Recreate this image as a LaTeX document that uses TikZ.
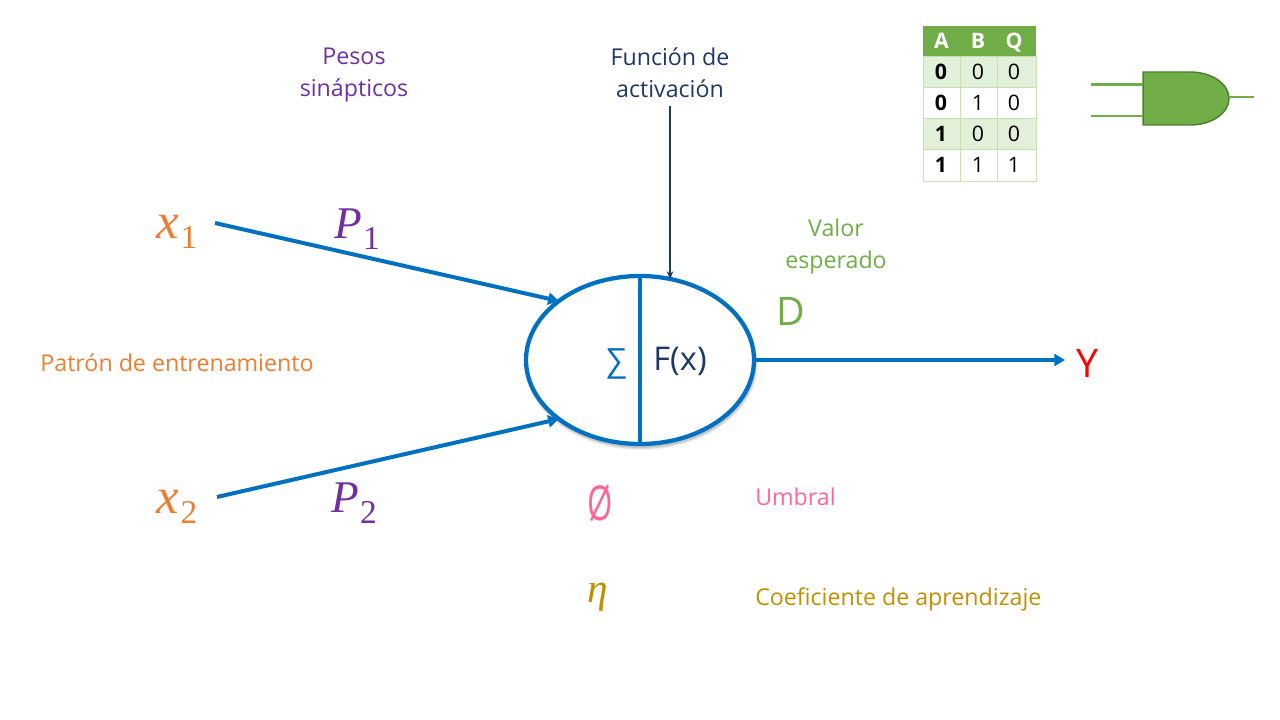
\documentclass[tikz,border=0pt]{standalone}
\usepackage{fontspec}
\setmainfont{Open Sans}
\newfontfamily\mathish{Liberation Serif}
\usetikzlibrary{shapes.geometric,arrows.meta}
\definecolor{cblue}{HTML}{0070C0}
\definecolor{corange}{HTML}{ED7D31}
\definecolor{cpurple}{HTML}{7030A0}
\definecolor{cgreen}{HTML}{70AD47}
\definecolor{cdgreen}{HTML}{507E32}
\definecolor{cnavy}{HTML}{1F3864}
\definecolor{cpink}{HTML}{FF6699}
\definecolor{cgold}{HTML}{BF9000}
\definecolor{crow}{HTML}{E2EFD9}
\definecolor{cgrid}{HTML}{C5E0B3}
\newcommand{\subdigit}[1]{\raisebox{-8pt}{\hspace{1pt}\fontsize{25}{25}\selectfont\mathish\upshape #1}}
\tikzset{
  label text/.style={font=\fontsize{17.4}{24}\selectfont,align=center,inner sep=0pt},
  math x/.style={font=\fontsize{38}{38}\selectfont\mathish\itshape,inner sep=0pt},
  math p/.style={font=\fontsize{34}{34}\selectfont\mathish\itshape,inner sep=0pt},
  big sym/.style={font=\fontsize{29.5}{30}\selectfont,inner sep=0pt},
  flow/.style={draw=cblue,line width=3pt,-{Triangle[length=8pt,width=9pt]}},
  hdr/.style={text=white,font=\fontsize{16}{16}\selectfont\bfseries,inner sep=0pt,text height=11.5pt,text depth=0pt},
  cellA/.style={draw=cgrid,line width=.7pt,fill=crow},
  cellB/.style={draw=cgrid,line width=.7pt,fill=white},
  digit/.style={inner sep=0pt,font=\fontsize{16}{16}\selectfont,text height=11.5pt,text depth=0pt},
  gate line/.style={draw=cgreen,line width=2pt}
}
\begin{document}
\begin{tikzpicture}[x=0.75pt,y=-0.75pt]
\useasboundingbox (0,0) rectangle (1280,720);
% soft shadow of the neuron
\foreach \k/\o in {3/.06,2/.08,1/.10}{
  \path[fill=black,opacity=\o] (641,363) ellipse ({114+\k} and {84+\k});
}
% neuron
\node[ellipse,draw=cblue,fill=white,line width=3.2pt,minimum width=171pt,minimum height=126pt,inner sep=0pt,outer sep=0pt] (neuron) at (640,360) {};
\draw[draw=cblue,line width=3.2pt] (neuron.north) -- (neuron.south);
\node[text=cblue,font=\fontsize{24}{24}\selectfont,inner sep=0pt] (sigma) at (616.5,364) {∑};
\node[text=cnavy,font=\fontsize{24.5}{24}\selectfont,inner sep=0pt] (fx) at (680,361) {F(x)};
% inputs
\node[math x,text=corange] (x1) at (177,232) {x\subdigit{1}};
\node[math x,text=corange] (x2) at (177,507) {x\subdigit{2}};
\node[math p,text=cpurple] (p1) at (357,229) {P\subdigit{1}};
\node[math p,text=cpurple] (p2) at (354,503) {P\subdigit{2}};
\coordinate (in1) at ([shift={(28.5pt,6.75pt)}]x1.center);
\coordinate (in2) at ([shift={(30pt,7.5pt)}]x2.center);
\draw[flow] (in1) -- (neuron.144);
\draw[flow] (in2) -- (neuron.216);
% output
\node[big sym,text=red] (y) at (1087,363) {Y};
\draw[flow] (neuron.east) -- ([xshift=-8pt]neuron.east -| y.west);
% labels
\node[label text,text=cpurple] (pesos) at (354,75) {Pesos\\sinápticos};
\node[label text,text=cnavy] (func) at (670,72.5) {Función de\\activación};
\node[label text,text=cgreen] (valor) at (836,246) {Valor\\esperado};
\node[big sym,text=cgreen] (d) at (791,311) {D};
\node[label text,text=corange] (patron) at (177,363) {Patrón de entrenamiento};
\node[inner sep=0pt,text=cpink,font=\fontsize{36}{36}\selectfont] (phi) at (600,503) {\scalebox{.68}[1]{Ø}};
\node[label text,text=cpink,anchor=west] (umbral) at (755,497) {Umbral};
\node[inner sep=0pt,font=\fontsize{31}{31}\selectfont\mathish\itshape,text=cgold] (eta) at (598,597) {η};
\node[label text,text=cgold,anchor=west] (coef) at (755,599) {Coeficiente de aprendizaje};
% activation
\draw[draw=cnavy,line width=.8pt,-{Stealth[length=6pt,width=5pt]}] ([yshift=-6pt]func.south) -- (func.south |- neuron.69.7);
% truth table
\path[fill=cgreen] (923,26) rectangle (1036,56);
\foreach \nm/\xc/\t in {a/941.5/A,b/978/B,q/1014/Q}{
  \node[hdr] (h\nm) at (\xc,41) {\t};
}
\foreach \ya/\yb/\st/\p/\q/\r in {56/87/cellA/0/0/0,87/118/cellB/0/1/0,118/149/cellA/1/0/0,149/181/cellB/1/1/1}{
  \draw[\st] (923,\ya) rectangle (960,\yb);
  \draw[\st] (960,\ya) rectangle (997,\yb);
  \draw[\st] (997,\ya) rectangle (1036,\yb);
  \node[digit,font=\fontsize{16}{16}\selectfont\bfseries] at (941,{(\ya+\yb)/2}) {\p};
  \node[digit] at (978,{(\ya+\yb)/2}) {\q};
  \node[digit] at (1014,{(\ya+\yb)/2}) {\r};
}
% AND gate
\draw[fill=cgreen,draw=cdgreen,line width=1.1pt] (1143,72) -- (1190,72)
  .. controls (1212,72) and (1229,84) .. (1229,98.5)
  .. controls (1229,113) and (1212,125) .. (1190,125) -- (1143,125) -- cycle;
\coordinate (g1) at (1091,84.5);
\coordinate (g2) at (1091,116);
\coordinate (g3) at (1254,97);
\draw[gate line] (g1) -- (1143,84.5);
\draw[gate line] (g2) -- (1143,116);
\draw[gate line] (1229,97) -- (g3);
\end{tikzpicture}
\end{document}
